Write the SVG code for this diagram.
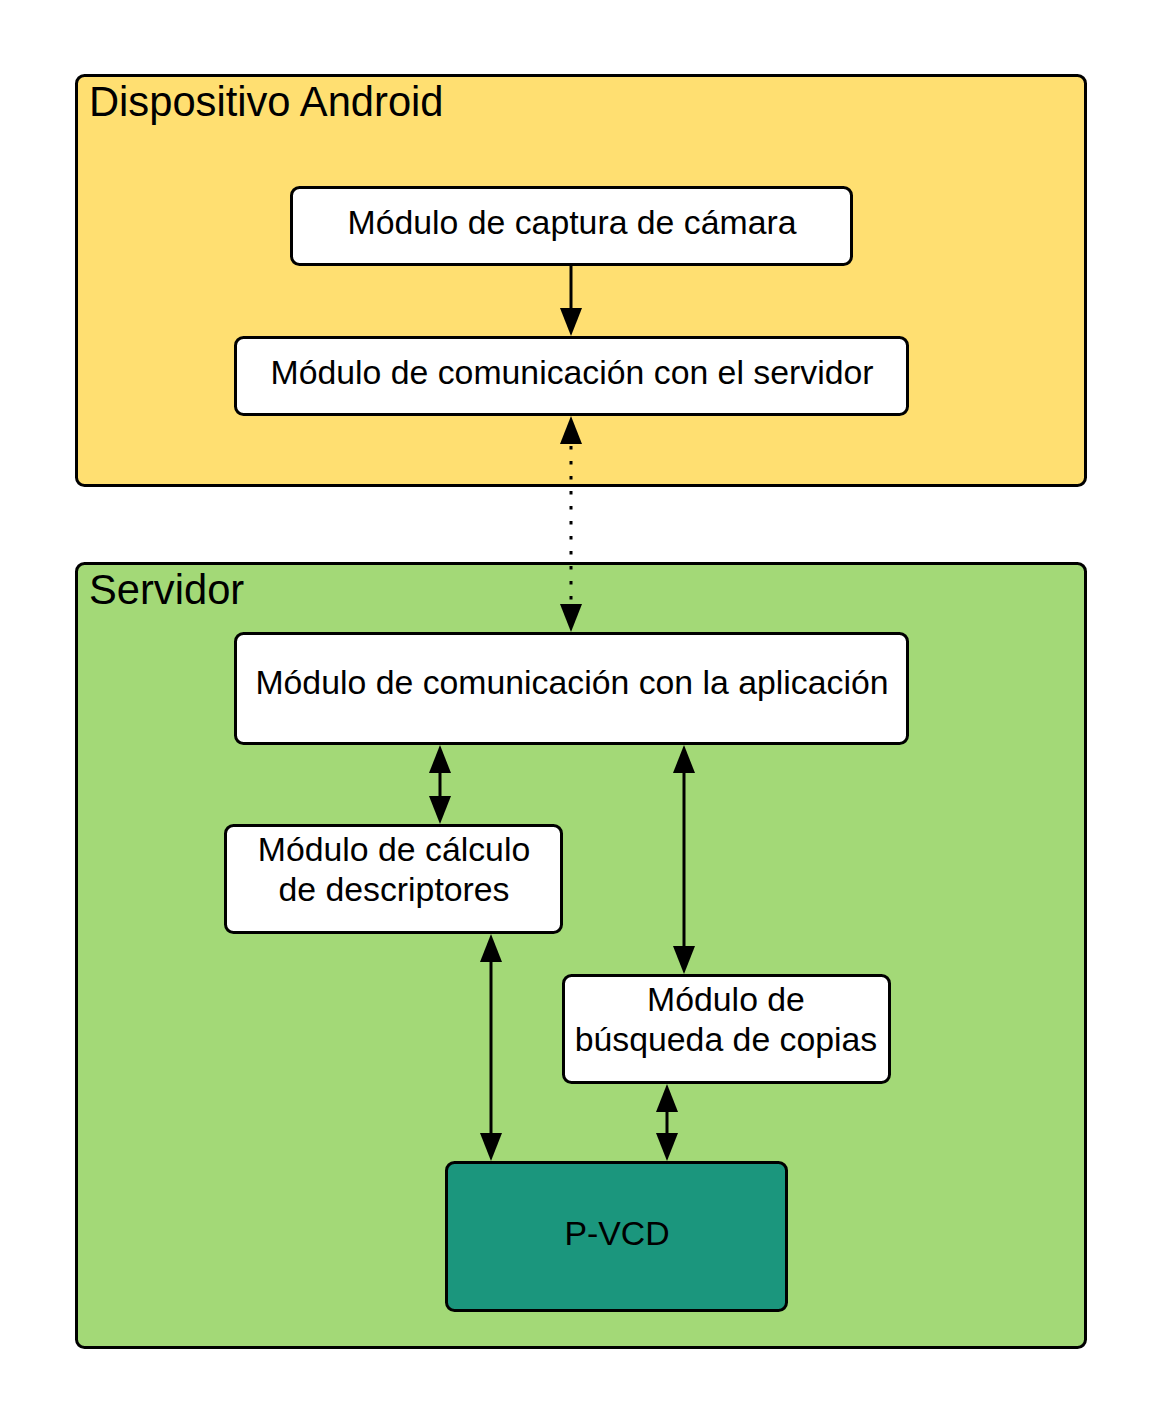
<svg xmlns="http://www.w3.org/2000/svg" width="1163" height="1425" viewBox="0 0 1163 1425">
<style>
.frame{stroke:#000;stroke-width:3}
.box{fill:#fff;stroke:#000;stroke-width:3}
.t{font-family:"Liberation Sans",Arial,sans-serif;font-size:33.8px;fill:#000;text-anchor:middle}
.title{font-family:"Liberation Sans",Arial,sans-serif;font-size:41.7px;fill:#000}
.conn{stroke:#000;stroke-width:3;fill:none}
.dot{stroke-dasharray:3.5 11.5;stroke-dashoffset:10}
</style>
<defs>
<marker id="ah" markerUnits="userSpaceOnUse" markerWidth="28" markerHeight="22" viewBox="0 0 28 22" refX="18" refY="11" orient="auto-start-reverse">
<path d="M0,0 L28,11 L0,22 z" fill="#000"/>
</marker>
</defs>
<rect width="1163" height="1425" fill="#fff"/>
<g id="android">
<rect class="frame" x="76.5" y="75.5" width="1009" height="410" rx="8" fill="#FFDF71"/>
<text class="title" x="89" y="116">Dispositivo Android</text>
</g>
<g id="servidor">
<rect class="frame" x="76.5" y="563.5" width="1009" height="784" rx="8" fill="#A3D977"/>
<text class="title" x="89" y="604">Servidor</text>
</g>
<g id="captura">
<rect class="box" x="291.5" y="187.5" width="560" height="77" rx="8"/>
<text class="t" x="572" y="234">Módulo de captura de cámara</text>
</g>
<g id="com-servidor">
<rect class="box" x="235.5" y="337.5" width="672" height="77" rx="8"/>
<text class="t" x="572" y="384">Módulo de comunicación con el servidor</text>
</g>
<g id="com-aplicacion">
<rect class="box" x="235.5" y="633.5" width="672" height="110" rx="8"/>
<text class="t" x="572" y="694">Módulo de comunicación con la aplicación</text>
</g>
<g id="calculo">
<rect class="box" x="225.5" y="825.5" width="336" height="107" rx="8"/>
<text class="t" x="394" y="861">Módulo de cálculo</text>
<text class="t" x="394" y="901">de descriptores</text>
</g>
<g id="busqueda">
<rect class="box" x="563.5" y="975.5" width="326" height="107" rx="8"/>
<text class="t" x="726" y="1011">Módulo de</text>
<text class="t" x="726" y="1051">búsqueda de copias</text>
</g>
<g id="pvcd">
<rect class="frame" x="446.5" y="1162.5" width="340" height="148" rx="8" fill="#1B967D"/>
<text class="t" x="617" y="1245">P-VCD</text>
</g>
<g id="connectors">
<line class="conn" x1="571" y1="266" x2="571" y2="326" marker-end="url(#ah)"/>
<line class="conn dot" x1="571" y1="426" x2="571" y2="622" marker-start="url(#ah)" marker-end="url(#ah)"/>
<line class="conn" x1="440" y1="755" x2="440" y2="814" marker-start="url(#ah)" marker-end="url(#ah)"/>
<line class="conn" x1="684" y1="755" x2="684" y2="964" marker-start="url(#ah)" marker-end="url(#ah)"/>
<line class="conn" x1="491" y1="944" x2="491" y2="1151" marker-start="url(#ah)" marker-end="url(#ah)"/>
<line class="conn" x1="667" y1="1094" x2="667" y2="1151" marker-start="url(#ah)" marker-end="url(#ah)"/>
</g>
</svg>
